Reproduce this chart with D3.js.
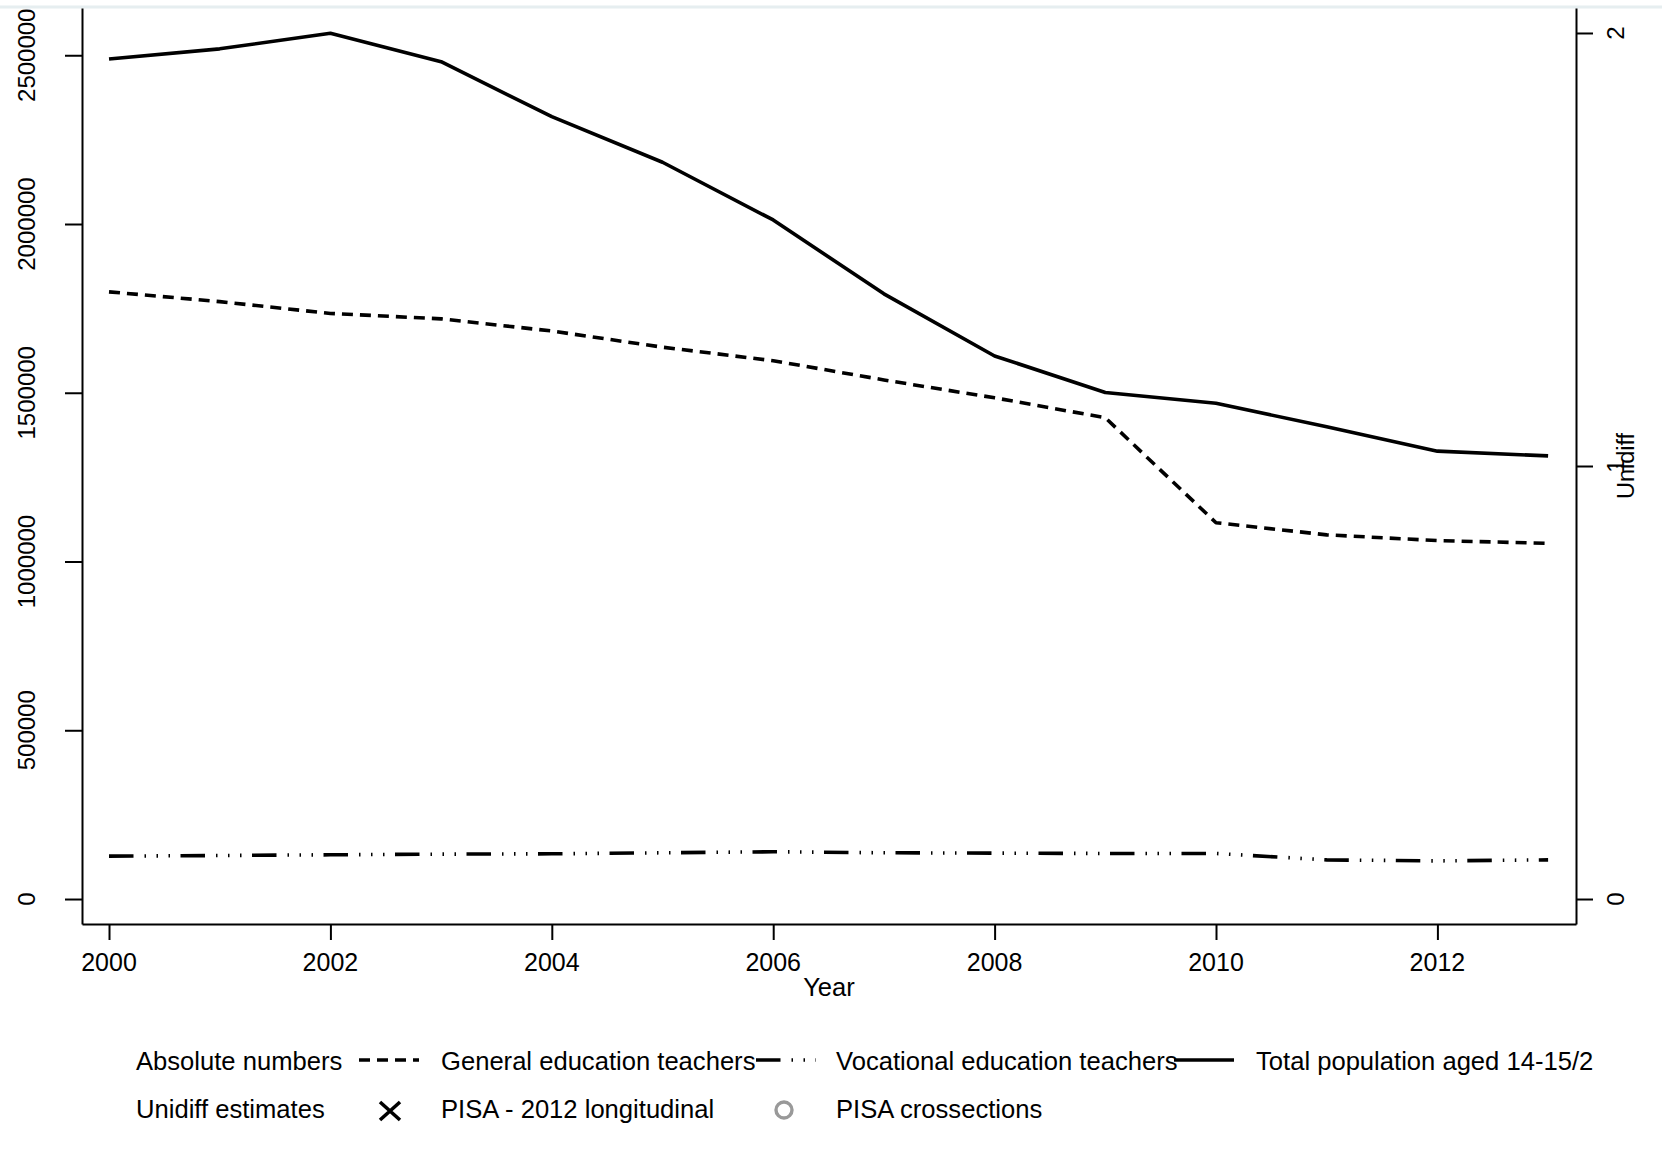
<!DOCTYPE html>
<html>
<head>
<meta charset="utf-8">
<script src="https://cdn.jsdelivr.net/npm/d3@7/dist/d3.min.js"></script>
<style>
  html, body { margin: 0; padding: 0; background: #fff; }
  svg { display: block; }
  text { font-family: "Liberation Sans", Arial, sans-serif; fill: #000; }
</style>
</head>
<body>
<svg id="chart" width="1662" height="1149"></svg>
<script>
// Years on the horizontal axis
const years = [2000, 2001, 2002, 2003, 2004, 2005, 2006, 2007, 2008, 2009, 2010, 2011, 2012, 2013];

// Absolute numbers (left axis)
const generalTeachers = [1799000, 1770000, 1735000, 1719000, 1683000, 1635000, 1595000, 1538000, 1485000, 1426000, 1115000, 1079000, 1062000, 1054000];
const vocationalTeachers = [127000, 129000, 131000, 133000, 134000, 137000, 140000, 137000, 136000, 135000, 135000, 116000, 113000, 116000];
const totalPopulationHalf = [2489000, 2519000, 2565000, 2481000, 2318000, 2183000, 2012000, 1793000, 1609000, 1501000, 1469000, 1399000, 1327000, 1313000];

// Tick values
const xTicks = [2000, 2002, 2004, 2006, 2008, 2010, 2012];
const leftTicks = [0, 500000, 1000000, 1500000, 2000000, 2500000];
const rightTicks = [0, 1, 2];

// Legend entries
const legendRow1Title = "Absolute numbers";
const legendRow2Title = "Unidiff estimates";
const legendLines = ["General education teachers", "Vocational education teachers", "Total population aged 14-15/2"];
const legendMarkers = ["PISA - 2012 longitudinal", "PISA crossections"];

const svg = d3.select("#chart");

const plot = { left: 82, right: 1576, top: 8, bottom: 924 };

const x = d3.scaleLinear().domain([1999.756, 2013.252]).range([plot.left, plot.right]);
const yLeft = d3.scaleLinear().domain([-74000, 2640000]).range([plot.bottom, plot.top]);
const yRight = d3.scaleLinear().domain([-0.0577, 2.0577]).range([plot.bottom, plot.top]);

// faint frame line along the top edge of the graph region
svg.append("line")
  .attr("x1", 0).attr("x2", 1662).attr("y1", 7).attr("y2", 7)
  .attr("stroke", "#e6eef0").attr("stroke-width", 3);

const styles = {
  general: { dash: "11,7" },
  vocational: { dash: "24.5,11,1.5,10.5,1.5,10.5,1.5,10.5" },
  total: { dash: null }
};
const lineWidth = 3.6;

function drawSeries(values, style) {
  const gen = d3.line().x((d, i) => x(years[i])).y(d => yLeft(d));
  svg.append("path")
    .datum(values)
    .attr("d", gen)
    .attr("fill", "none")
    .attr("stroke", "#000")
    .attr("stroke-width", lineWidth)
    .attr("stroke-linejoin", "round")
    .attr("stroke-dasharray", style.dash);
}
drawSeries(generalTeachers, styles.general);
drawSeries(vocationalTeachers, styles.vocational);
drawSeries(totalPopulationHalf, styles.total);

// Axes
function styleAxis(g) {
  g.selectAll("path, line").attr("stroke", "#000").attr("stroke-width", 2);
  g.selectAll("text").remove();
}

svg.append("g")
  .attr("transform", `translate(0,${plot.bottom})`)
  .call(d3.axisBottom(x).tickValues(xTicks).tickSize(16).tickSizeOuter(0))
  .call(styleAxis);

svg.append("g")
  .attr("transform", `translate(${plot.left},0)`)
  .call(d3.axisLeft(yLeft).tickValues(leftTicks).tickSize(17).tickSizeOuter(0))
  .call(styleAxis);

svg.append("g")
  .attr("transform", `translate(${plot.right},0)`)
  .call(d3.axisRight(yRight).tickValues(rightTicks).tickSize(17).tickSizeOuter(0))
  .call(styleAxis);

// Tick labels
svg.append("g").selectAll("text").data(xTicks).join("text")
  .attr("x", d => x(d)).attr("y", 971)
  .attr("text-anchor", "middle").attr("font-size", 25)
  .text(d => d);

svg.append("g").selectAll("text").data(leftTicks).join("text")
  .attr("transform", d => `translate(35,${yLeft(d)}) rotate(-90)`)
  .attr("text-anchor", "middle").attr("font-size", 24)
  .text(d => d);

svg.append("g").selectAll("text").data(rightTicks).join("text")
  .attr("transform", d => `translate(1624,${yRight(d)}) rotate(-90)`)
  .attr("text-anchor", "middle").attr("font-size", 24)
  .text(d => d);

// Axis titles
svg.append("text")
  .attr("x", 829).attr("y", 996)
  .attr("text-anchor", "middle").attr("font-size", 25.6)
  .text("Year");

svg.append("text")
  .attr("transform", `translate(1634,${yRight(1)}) rotate(-90)`)
  .attr("text-anchor", "middle").attr("font-size", 23.5)
  .text("Unidiff");

// Legend
const legend = svg.append("g");
const row1 = 1070, row2 = 1118;
const legendFont = 25.6;

legend.append("text").attr("x", 136).attr("y", row1).attr("font-size", legendFont).text(legendRow1Title);
legend.append("text").attr("x", 136).attr("y", row2).attr("font-size", legendFont).text(legendRow2Title);

const sampleStyles = [styles.general, styles.vocational, styles.total];
const sampleX = [359, 756, 1174];
const labelX = [441, 836, 1256];
legendLines.forEach((name, i) => {
  legend.append("line")
    .attr("x1", sampleX[i]).attr("x2", sampleX[i] + 60)
    .attr("y1", row1 - 10).attr("y2", row1 - 10)
    .attr("stroke", "#000").attr("stroke-width", lineWidth)
    .attr("stroke-dasharray", sampleStyles[i].dash);
  legend.append("text").attr("x", labelX[i]).attr("y", row1).attr("font-size", legendFont).text(name);
});

// X marker
const mx = 390, my = row2 - 7;
legend.append("path")
  .attr("d", `M${mx - 10},${my - 9}L${mx + 10},${my + 9}M${mx - 10},${my + 9}L${mx + 10},${my - 9}`)
  .attr("stroke", "#000").attr("stroke-width", 3.6).attr("fill", "none");
legend.append("text").attr("x", 441).attr("y", row2).attr("font-size", legendFont).text(legendMarkers[0]);

// hollow circle marker
legend.append("circle")
  .attr("cx", 784).attr("cy", row2 - 8).attr("r", 8)
  .attr("fill", "none").attr("stroke", "#999").attr("stroke-width", 3.4);
legend.append("text").attr("x", 836).attr("y", row2).attr("font-size", legendFont).text(legendMarkers[1]);
</script>
</body>
</html>
